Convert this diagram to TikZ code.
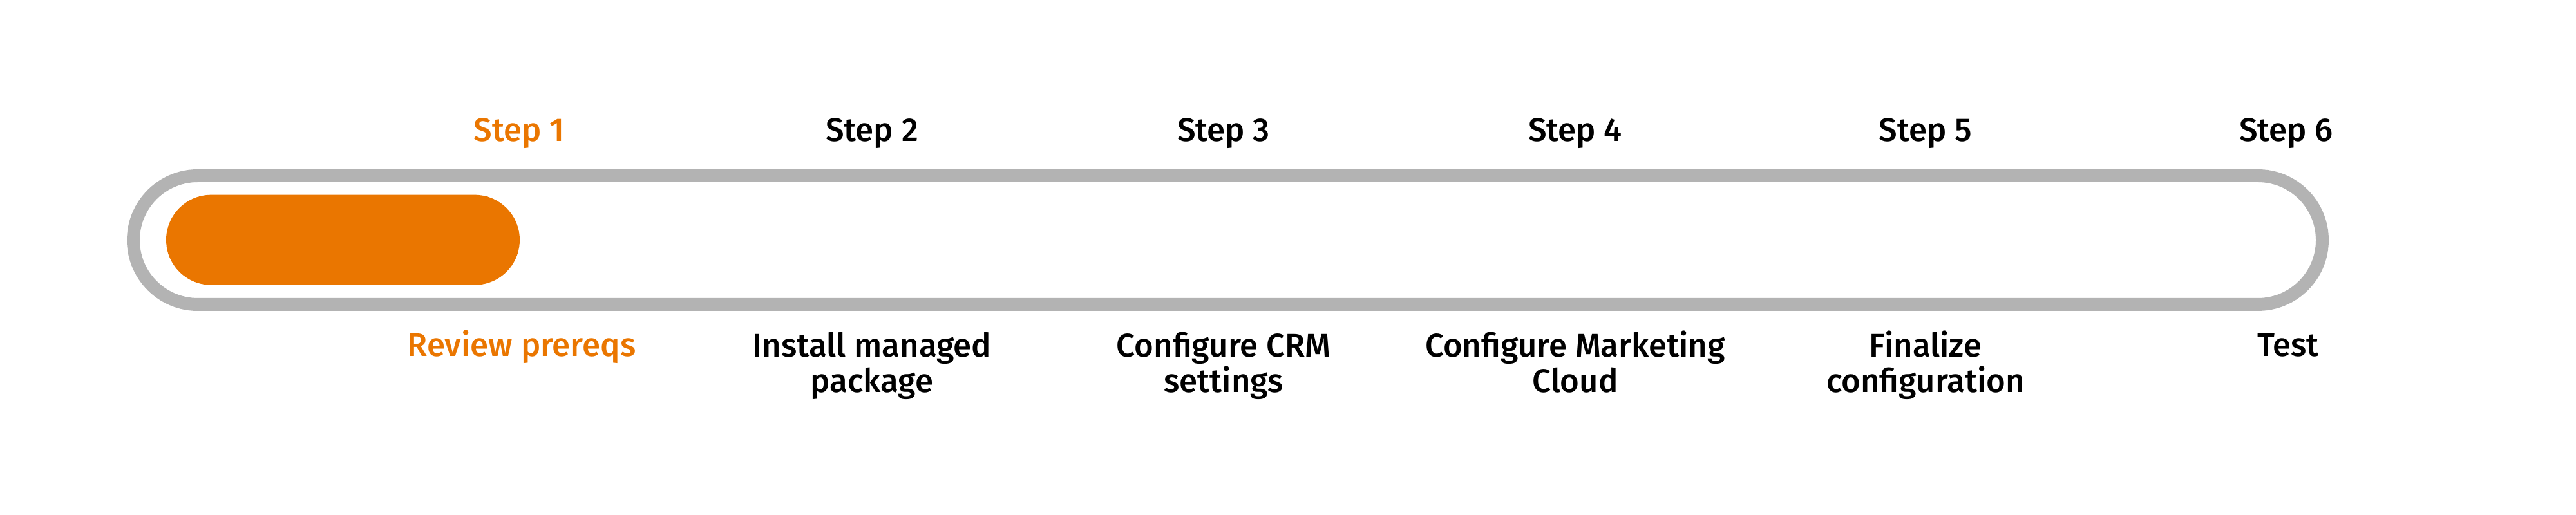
\documentclass[tikz,border=0pt]{standalone}
\usepackage{fontspec}
\setmainfont{Fira Sans}[BoldFont={Fira Sans Medium}]
\usetikzlibrary{positioning}
\definecolor{trackgray}{HTML}{B3B3B3}
\definecolor{doneorange}{HTML}{EA7600}

\begin{document}
\begin{tikzpicture}[
  steplabel/.style={font=\fontsize{14.5}{16}\selectfont\bfseries, anchor=base, inner sep=0pt},
  tasklabel/.style={font=\fontsize{14.5}{15.9}\selectfont\bfseries, anchor=base, align=center, inner sep=0pt},
  current/.style={text=doneorange}
]
  \useasboundingbox (0,0) rectangle (40,8);
  % track and progress
  \draw[trackgray, line width=0.2cm, rounded corners=1cm] (2.07,3.27) rectangle (36.06,5.27);
  \fill[doneorange, rounded corners=0.7cm] (2.58,3.573) rectangle (8.07,4.973);

  \node[steplabel, current] (s1) at (8.06,5.80) {Step 1};
  \node[steplabel] (s2) at (13.54,5.80) {Step 2};
  \node[steplabel] (s3) at (19.00,5.80) {Step 3};
  \node[steplabel] (s4) at (24.46,5.80) {Step 4};
  \node[steplabel] (s5) at (29.90,5.80) {Step 5};
  \node[steplabel] (s6) at (35.50,5.80) {Step 6};

  % base is the last line, so two-line labels sit one line lower
  \node[tasklabel, current] (t1) at (8.10,2.46) {Review prereqs};
  \node[tasklabel] (t2) at (13.54,1.90) {Install managed\\package};
  \node[tasklabel] (t3) at (19.00,1.90) {Configure CRM\\settings};
  \node[tasklabel] (t4) at (24.46,1.90) {Configure Marketing\\Cloud};
  \node[tasklabel] (t5) at (29.90,1.90) {Finalize\\configuration};
  \node[tasklabel] (t6) at (35.53,2.46) {Test};
\end{tikzpicture}
\end{document}
